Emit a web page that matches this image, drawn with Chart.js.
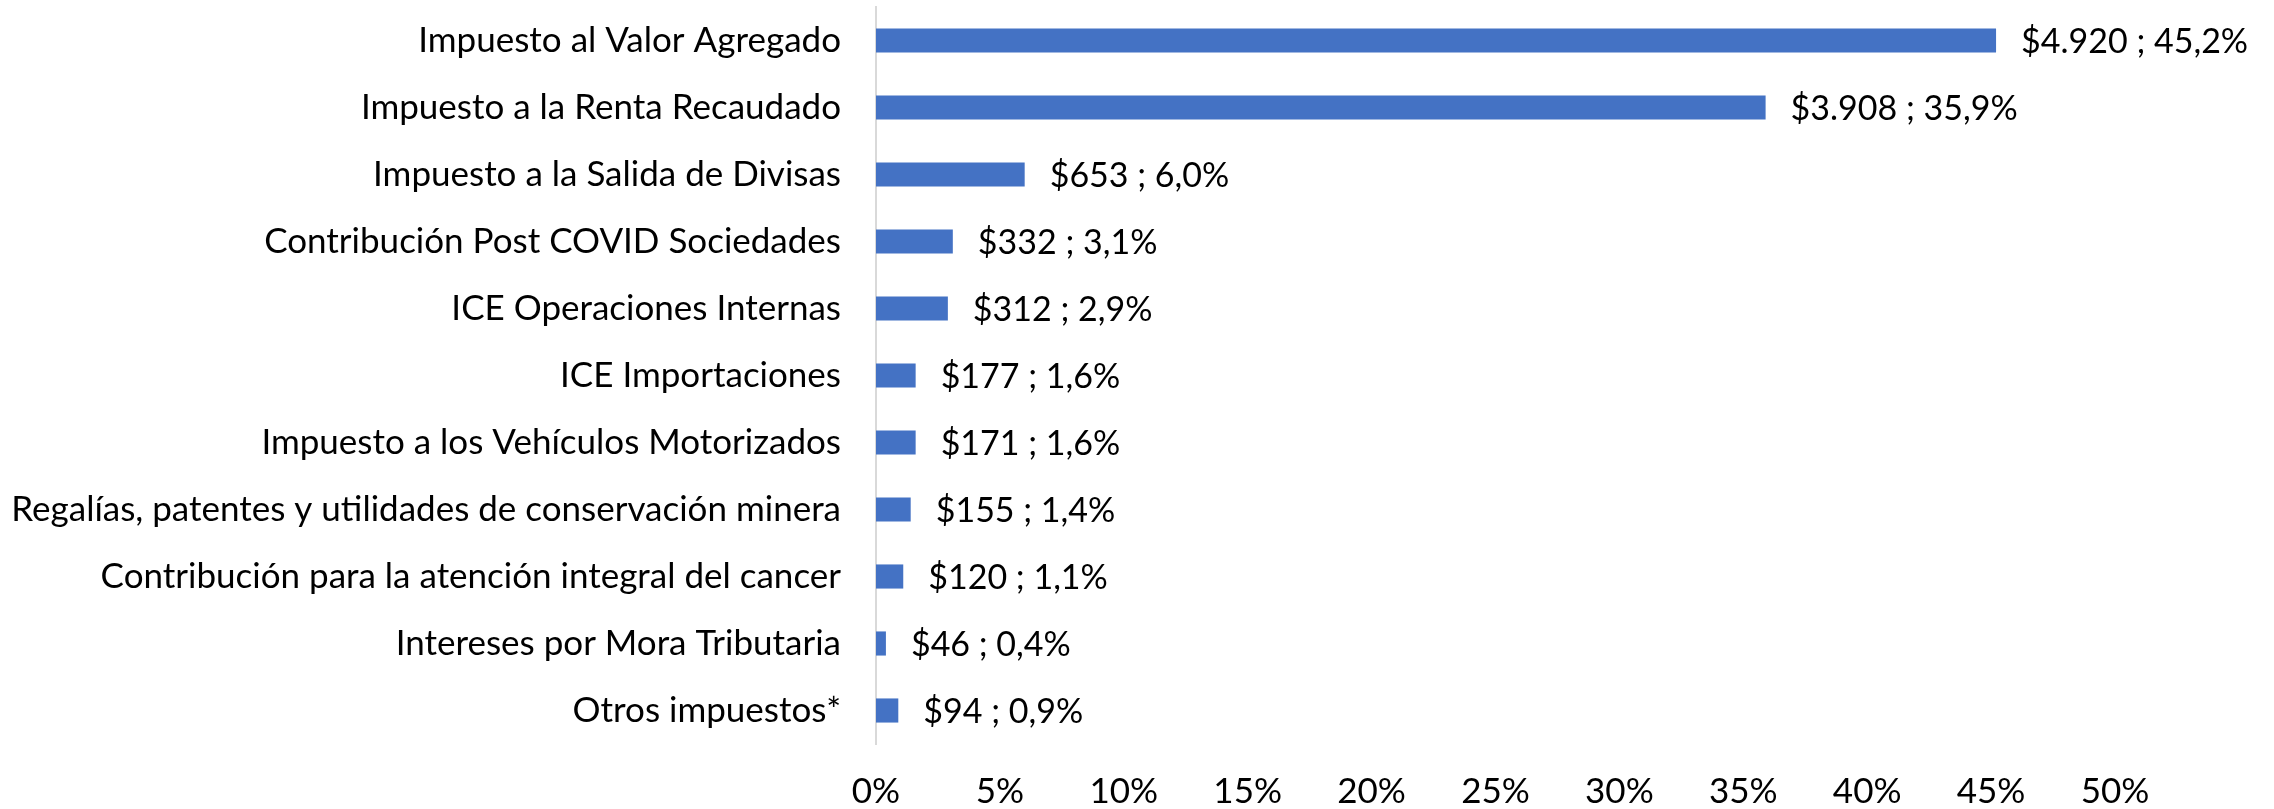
<!DOCTYPE html>
<html>
<head>
<meta charset="utf-8">
<script src="https://cdn.jsdelivr.net/npm/chart.js@4.4.1/dist/chart.umd.min.js"></script>
<style>
html,body{margin:0;padding:0;background:#fff;}
#wrap{width:2274px;height:809px;position:relative;}
</style>
</head>
<body>
<div id="wrap"><canvas id="c" width="2274" height="809"></canvas></div>
<script>
const categories = [
  "Impuesto al Valor Agregado",
  "Impuesto a la Renta Recaudado",
  "Impuesto a la Salida de Divisas",
  "Contribución Post COVID Sociedades",
  "ICE Operaciones Internas",
  "ICE Importaciones",
  "Impuesto a los Vehículos Motorizados",
  "Regalías, patentes y utilidades de conservación minera",
  "Contribución para la atención integral del cancer",
  "Intereses por Mora Tributaria",
  "Otros impuestos*"
];
const amounts = [4920, 3908, 653, 332, 312, 177, 171, 155, 120, 46, 94];
const amountLabels = ["$4.920", "$3.908", "$653", "$332", "$312", "$177", "$171", "$155", "$120", "$46", "$94"];
const percents = [45.2, 35.9, 6.0, 3.1, 2.9, 1.6, 1.6, 1.4, 1.1, 0.4, 0.9];
const percentLabels = ["45,2%", "35,9%", "6,0%", "3,1%", "2,9%", "1,6%", "1,6%", "1,4%", "1,1%", "0,4%", "0,9%"];
const xTicks = [0, 5, 10, 15, 20, 25, 30, 35, 40, 45, 50];

const FONT = "Lato, 'Open Sans', sans-serif";
const FSIZE = 35;
const LSIZE = 34;

const labelPlugin = {
  id: 'barLabels',
  afterDatasetsDraw(chart) {
    const ctx = chart.ctx;
    const meta = chart.getDatasetMeta(0);
    ctx.save();
    ctx.font = LSIZE + "px " + FONT;
    ctx.fillStyle = "#000";
    ctx.textAlign = "left";
    ctx.textBaseline = "middle";
    meta.data.forEach((bar, i) => {
      ctx.fillText(amountLabels[i] + " ; " + percentLabels[i], bar.x + 25, bar.y + 2);
    });
    ctx.restore();
  }
};

new Chart(document.getElementById('c'), {
  type: 'bar',
  data: {
    labels: categories,
    datasets: [{
      data: percents,
      backgroundColor: '#4472C4',
      borderWidth: 0,
      categoryPercentage: 1,
      barPercentage: 0.36
    }]
  },
  options: {
    indexAxis: 'y',
    responsive: false,
    animation: false,
    devicePixelRatio: 1,
    layout: { padding: { top: 7, right: 159, left: 0, bottom: 0 } },
    plugins: { legend: { display: false }, tooltip: { enabled: false } },
    scales: {
      x: {
        min: 0, max: 50,
        afterBuildTicks(axis) { axis.ticks = xTicks.map(v => ({ value: v })); },
        afterFit(axis) { axis.height = 65; axis.paddingLeft = 0; axis.paddingRight = 0; },
        grid: { display: false, drawTicks: false },
        border: { display: false },
        ticks: {
          color: '#000',
          font: { family: FONT, size: FSIZE },
          padding: 27,
          maxRotation: 0,
          callback: v => v + '%'
        }
      },
      y: {
        afterFit(axis) { axis.width = 876; axis.paddingTop = 0; axis.paddingBottom = 0; },
        grid: { display: false, drawTicks: false },
        border: { display: true, color: '#d9d9d9', width: 2 },
        ticks: {
          color: '#000',
          font: { family: FONT, size: FSIZE },
          padding: 35,
          autoSkip: false
        }
      }
    }
  },
  plugins: [labelPlugin]
});
</script>
</body>
</html>
